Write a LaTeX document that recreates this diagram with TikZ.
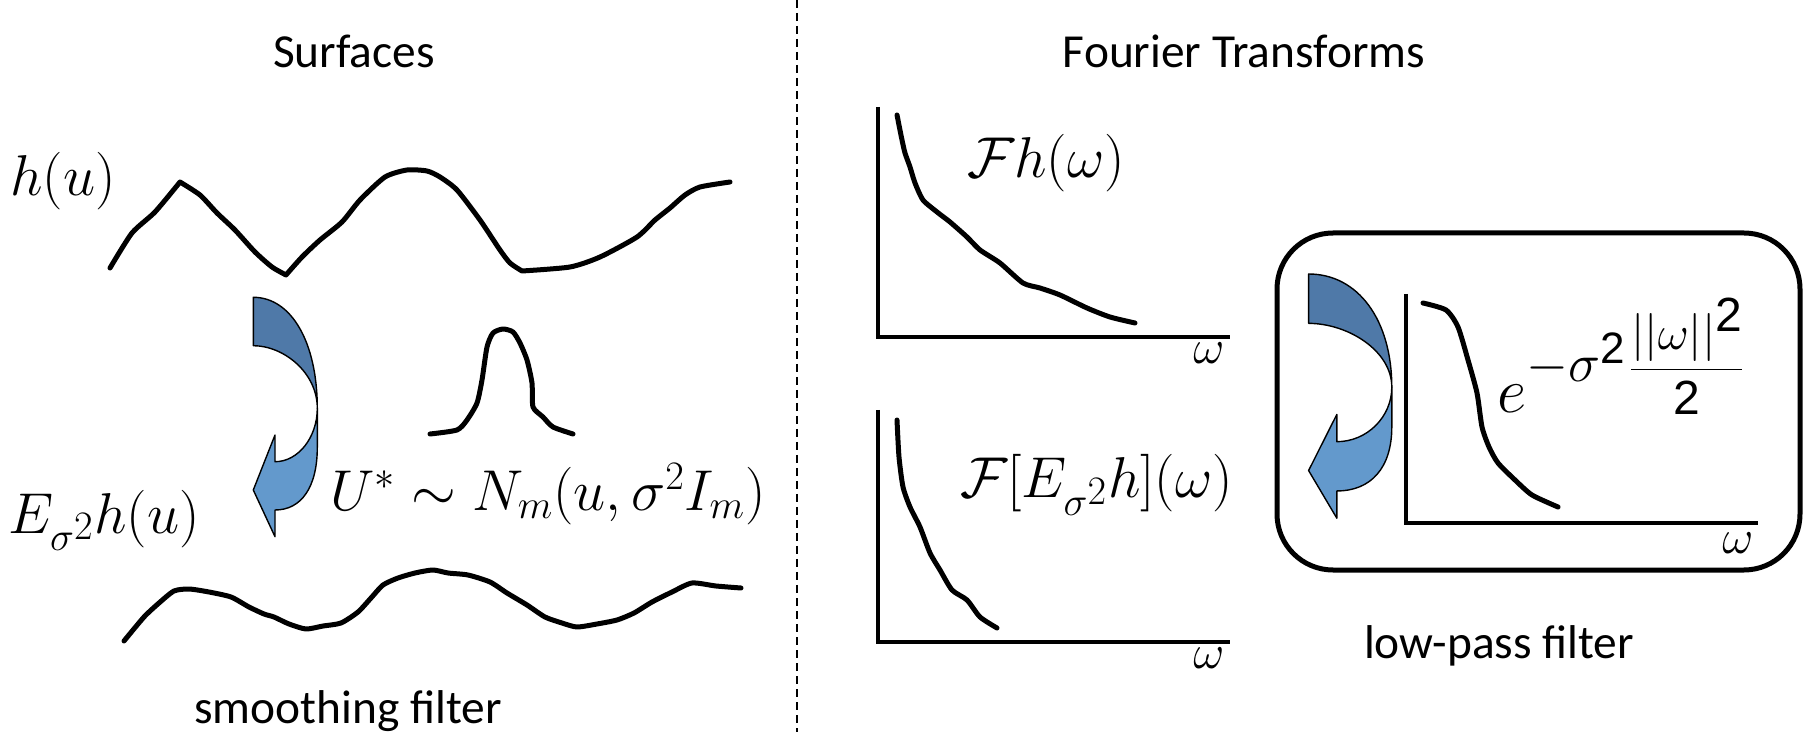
\RequirePackage{fix-cm}
\documentclass[tikz,border=0pt]{standalone}
\usepackage{fontspec}
\newfontfamily\calib{Carlito}
\newfontfamily\arialf{Liberation Sans}
\definecolor{arrdark}{RGB}{79,121,168}
\definecolor{arrlight}{RGB}{99,153,204}
\tikzset{
  curve/.style={line width=2.5pt, line cap=round, line join=round},
  axisline/.style={line width=2.3pt},
  lbl/.style={inner sep=0pt, anchor=base, font=\calib\fontsize{23.7}{28}\selectfont},
  mth/.style={inner sep=0pt, anchor=base west, font=\fontsize{28.8}{34}\selectfont},
  om/.style={inner sep=0pt, anchor=base west, font=\fontsize{24}{28}\selectfont},
  bandlight/.style={fill=arrlight, draw=black, line width=0.7pt, line join=round},
  banddark/.style={fill=arrdark, draw=black, line width=0.7pt, line join=round},
  divider/.style={line width=0.8pt, dash pattern=on 4pt off 2.5pt},
  filterbox/.style={line width=2.5pt, rounded corners=28pt},
  carrow/.pic={
    \path[bandlight] (64,111) .. controls (64,140) and (45,164.4) .. (21.7,164.4)
      -- (21.7,137.7) -- (0,192.7) -- (21.7,239.4) -- (21.7,212.7)
      .. controls (48,212.7) and (64,190) .. (64,150) -- cycle;
    \path[banddark] (0,0) .. controls (38,0) and (64,45) .. (64,111)
      .. controls (64,75) and (30,48.4) .. (0,48.4) -- cycle;
  }
}
\begin{document}
\begin{tikzpicture}[x=0.5pt,y=-0.5pt]
\useasboundingbox (0,0) rectangle (1810,732);

% divider
\coordinate (dtop) at (797,0);
\coordinate (dbot) at (797,732);
\draw[divider] (dtop) -- (dbot);

% titles
\node[lbl] (tsurf) at (354,68) {Surfaces};
\node[lbl] (tfour) at (1244,68) {Fourier Transforms};
\node[lbl] (tsmooth) at (348,723) {smoothing filter};
\node[lbl] (tlow) at (1499,658) {low-pass filter};

% left labels
\node[mth] (hu) at (10,196) {$h(u)$};
\node[mth] (ehu) at (8,533) {$E_{\sigma^{\scriptstyle 2}}h(u)$};
\node[mth] (ustar) at (330,510) {$U^* \sim N_m(u,\sigma^2 I_m)$};

% h(u) curve
\draw[curve]
  plot[smooth, tension=0.4] coordinates {(110,268) (132,233) (155,212) (180,182)}
  plot[smooth, tension=0.4] coordinates {(180,182) (200,195) (217,213) (235,230) (255,252) (272,267) (286,275)}
  plot[smooth, tension=0.4] coordinates {(286,275) (302,257) (320,240) (342,222) (360,200) (385,177) (407,170) (427,171) (440,177) (457,190) (480,220) (500,250) (510,263) (522,271)}
  plot[smooth, tension=0.4] coordinates {(522,271) (570,267) (600,257) (637,237) (655,220) (670,208) (685,195) (700,187) (730,182)};

% smoothed curve
\draw[curve] plot[smooth, tension=0.4] coordinates {(124,641) (144,617) (159,603) (174,591) (189,589) (209,592) (231,597) (249,607) (264,614) (274,617) (289,624) (306,629) (323,626) (341,623) (358,612) (371,598) (383,585) (398,578) (415,573) (433,570) (448,573) (468,575) (490,582) (507,593) (527,605) (545,617) (562,623) (577,627) (597,624) (617,620) (634,613) (652,602) (672,592) (692,583) (716,586) (741,588)};

% gaussian bump
\draw[curve] plot[smooth, tension=0.4] coordinates {(430,434) (457,430) (467,420) (477,403) (482,380) (487,347) (493,333) (503,329) (513,332) (520,343) (527,360) (532,383) (533,407) (543,417) (553,427) (573,434)};

% left curved arrow
\pic (arrowL) at (253.3,297.3) {carrow};

% top spectrum
\draw[axisline] (878,107) -- (878,337) -- (1230,337);
\draw[curve] plot[smooth, tension=0.4] coordinates {(897,115) (902,140) (905,153) (910,167) (915,183) (923,200) (937,212) (950,222) (967,237) (980,250) (1000,263) (1023,283) (1040,288) (1060,295) (1087,308) (1110,317) (1135,323)};
\node[mth] (fh) at (967,178) {$\mathcal{F}h(\omega)$};
\node[om] (om1) at (1193,364) {$\omega$};

% bottom spectrum
\draw[axisline] (878,410) -- (878,642) -- (1230,642);
\draw[curve] plot[smooth, tension=0.4] coordinates {(897,420) (899,457) (903,487) (910,507) (920,527) (930,553) (940,570) (952,590) (967,600) (980,617) (997,628)};
\node[mth] (feh) at (960,498) {$\mathcal{F}[E_{\sigma^{\scriptstyle 2}}h](\omega)$};
\node[om] (om2) at (1193,668) {$\omega$};

% filter box
\draw[filterbox] (1277,233) rectangle (1800,570);
\pic[xscale=1.3, yscale=1.02] (arrowR) at (1308.6,274) {carrow};
\draw[axisline] (1406,294) -- (1406,523) -- (1758,523);
\draw[curve] plot[smooth, tension=0.4] coordinates {(1423,303) (1446,310) (1458,327) (1468,360) (1477,393) (1482,427) (1489,447) (1498,463) (1515,480) (1532,495) (1558,507)};
\node[om] (om3) at (1722,553) {$\omega$};
\node[inner sep=0pt, anchor=base west] (gauss) at (1497,413)
  {{\fontsize{32}{36}\selectfont$e$}\raisebox{15.75pt}{\fontsize{27}{32}\selectfont$-\sigma$\raisebox{9pt}{\fontsize{22}{26}\selectfont\arialf 2}\hspace{2pt}\fontsize{24}{28}\selectfont$\displaystyle\frac{||\omega||\raisebox{9pt}{\arialf 2}}{\mbox{\arialf 2}}$}};
\end{tikzpicture}
\end{document}
